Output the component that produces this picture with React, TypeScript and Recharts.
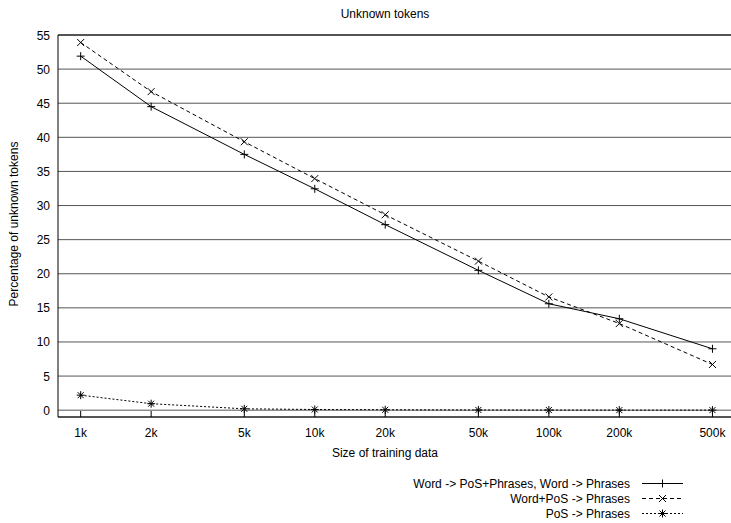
import React from 'react';
import { LineChart, Line, XAxis, YAxis, CartesianGrid, ReferenceLine } from 'recharts';

const sizes = [1000, 2000, 5000, 10000, 20000, 50000, 100000, 200000, 500000];
const sizeLabels = ['1k', '2k', '5k', '10k', '20k', '50k', '100k', '200k', '500k'];
const wordPosPhrases = [51.9, 44.5, 37.5, 32.45, 27.2, 20.5, 15.6, 13.4, 9.0];
const wordPlusPos = [53.9, 46.7, 39.35, 33.95, 28.65, 21.85, 16.6, 12.7, 6.7];
const posPhrases = [2.2, 0.95, 0.2, 0.1, 0.06, 0.03, 0.02, 0.01, 0.01];
const yTicks = [0, 5, 10, 15, 20, 25, 30, 35, 40, 45, 50, 55];
const seriesNames = [
  'Word -> PoS+Phrases, Word -> Phrases',
  'Word+PoS -> Phrases',
  'PoS -> Phrases',
];

const data = sizes.map((s, i) => ({
  x: s,
  a: wordPosPhrases[i],
  b: wordPlusPos[i],
  c: posPhrases[i],
}));

const FONT = '"Liberation Sans", Arial, Helvetica, sans-serif';
const W = 731;
const H = 523;
const PLOT_LEFT = 58;
const PLOT_TOP = 35;
const XAXIS_H = 106;
const PLOT_BOTTOM = H - XAXIS_H;

const plusPath = (cx: number, cy: number, r = 4) =>
  `M${cx - r},${cy}L${cx + r},${cy}M${cx},${cy - r}L${cx},${cy + r}`;
const crossPath = (cx: number, cy: number, r = 3.5) =>
  `M${cx - r},${cy - r}L${cx + r},${cy + r}M${cx - r},${cy + r}L${cx + r},${cy - r}`;
const starPath = (cx: number, cy: number) => plusPath(cx, cy, 4) + crossPath(cx, cy, 3);

const makeDot = (kind: 'plus' | 'cross' | 'star') => (props: any) => {
  const { cx, cy, index } = props;
  if (cx == null || cy == null) return <g key={`d-${kind}-${index}`} />;
  const d = kind === 'plus' ? plusPath(cx, cy) : kind === 'cross' ? crossPath(cx, cy) : starPath(cx, cy);
  return <path key={`d-${kind}-${index}`} d={d} stroke="#000" strokeWidth={1} fill="none" />;
};

const XTick = (props: any) => {
  const { x, payload } = props;
  const idx = sizes.indexOf(payload.value);
  return (
    <g>
      <line x1={x} x2={x} y1={PLOT_BOTTOM} y2={PLOT_BOTTOM - 6} stroke="#000" strokeWidth={1} />
      <text x={x} y={PLOT_BOTTOM + 20} textAnchor="middle" fontFamily={FONT} fontSize={12} fill="#000">
        {idx >= 0 ? sizeLabels[idx] : payload.value}
      </text>
    </g>
  );
};

const YTick = (props: any) => {
  const { y, payload } = props;
  return (
    <g>
      <text x={PLOT_LEFT - 8} y={y + 4.5} textAnchor="end" fontFamily={FONT} fontSize={12} fill="#000">
        {payload.value}
      </text>
    </g>
  );
};

const legendStyles = [
  { dash: undefined, kind: 'plus' as const },
  { dash: '4 3', kind: 'cross' as const },
  { dash: '2 2', kind: 'star' as const },
];

export default function App() {
  return (
    <div style={{ position: 'absolute', left: 0, top: 0, width: W, height: H, background: '#fff' }}>
      <LineChart
        width={W}
        height={H}
        data={data}
        margin={{ top: PLOT_TOP, right: 0, bottom: 0, left: 0 }}
      >
        <CartesianGrid vertical={false} stroke="#555" strokeWidth={1} />
        <XAxis
          dataKey="x"
          type="number"
          scale="log"
          domain={[800, 600000]}
          allowDataOverflow
          ticks={sizes}
          interval={0}
          height={XAXIS_H}
          tickSize={0}
          tickMargin={0}
          tickLine={false}
          tick={<XTick />}
          axisLine={{ stroke: '#000', strokeWidth: 1 }}
        />
        <YAxis
          type="number"
          domain={[-1, 55]}
          ticks={yTicks}
          interval={0}
          width={PLOT_LEFT}
          tickSize={0}
          tickMargin={0}
          tickLine={false}
          tick={<YTick />}
          axisLine={{ stroke: '#000', strokeWidth: 1 }}
        />
        <ReferenceLine y={55} stroke="#000" strokeWidth={1} />
        <Line
          dataKey="a"
          name={seriesNames[0]}
          stroke="#000"
          strokeWidth={1}
          dot={makeDot('plus')}
          activeDot={false}
          isAnimationActive={false}
        />
        <Line
          dataKey="b"
          name={seriesNames[1]}
          stroke="#000"
          strokeWidth={1}
          strokeDasharray="4 3"
          dot={makeDot('cross')}
          activeDot={false}
          isAnimationActive={false}
        />
        <Line
          dataKey="c"
          name={seriesNames[2]}
          stroke="#000"
          strokeWidth={1}
          strokeDasharray="2 2"
          dot={makeDot('star')}
          activeDot={false}
          isAnimationActive={false}
        />
      </LineChart>
      <svg
        width={W}
        height={H}
        style={{ position: 'absolute', left: 0, top: 0, pointerEvents: 'none' }}
      >
        <text x={385} y={18} textAnchor="middle" fontFamily={FONT} fontSize={12} fill="#000">
          Unknown tokens
        </text>
        <text
          x={18}
          y={224}
          textAnchor="middle"
          fontFamily={FONT}
          fontSize={12}
          fill="#000"
          transform="rotate(-90 18 224)"
        >
          Percentage of unknown tokens
        </text>
        <text x={385} y={457} textAnchor="middle" fontFamily={FONT} fontSize={12} fill="#000">
          Size of training data
        </text>
        {seriesNames.map((name, i) => {
          const cy = 483.5 + i * 15;
          const st = legendStyles[i];
          const d =
            st.kind === 'plus' ? plusPath(662.5, cy) : st.kind === 'cross' ? crossPath(662.5, cy) : starPath(662.5, cy);
          return (
            <g key={name}>
              <text x={630} y={cy + 4.5} textAnchor="end" fontFamily={FONT} fontSize={12} fill="#000">
                {name}
              </text>
              <line x1={642} x2={683} y1={cy} y2={cy} stroke="#000" strokeWidth={1} strokeDasharray={st.dash} />
              <path d={d} stroke="#000" strokeWidth={1} fill="none" />
            </g>
          );
        })}
      </svg>
    </div>
  );
}
